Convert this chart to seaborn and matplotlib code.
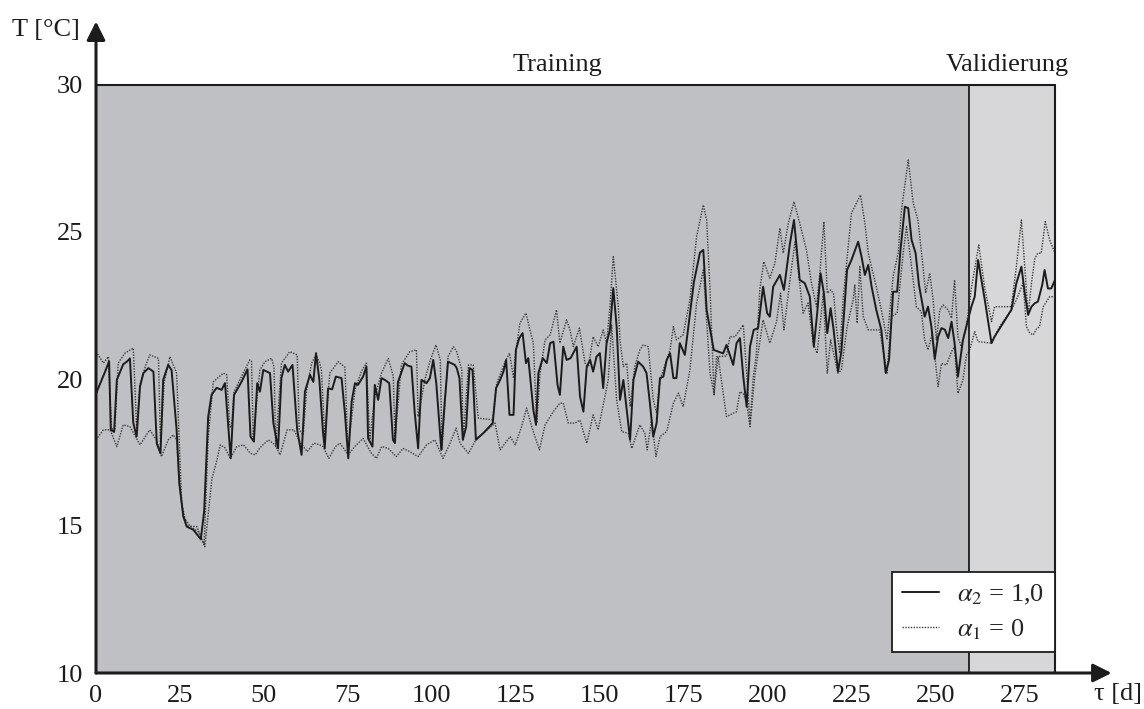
import numpy as np
import pandas as pd
import matplotlib
matplotlib.use("Agg")
import matplotlib.pyplot as plt
import seaborn as sns
from matplotlib.lines import Line2D

# ---------------- data ----------------
solid_x = [0, 2.7, 3.2, 3.9, 4.4, 5.4, 6.2, 8.1, 9.3, 10.1, 11.1, 12.1, 13.1, 14.1, 15.6, 17.1, 18.1, 19.2, 20.0,
           21.5, 22.5, 24.0, 24.8, 26, 27, 29, 31.2, 32.2, 33.4, 34.4, 35.9, 37.4, 38.4, 39.4, 40.1, 41.1, 43.3,
           45.1, 46, 47, 48, 48.8, 49.8, 51.8, 52.8, 54.2, 55.2, 56.2, 57.2, 58.5, 59.9, 61.2, 62.2, 63.7, 64.7,
           65.5, 66.5, 67.6, 68.1, 69.1, 70.3, 71.4, 73.1, 74.1, 75.1, 76.1, 77.1, 78.0, 79.5, 80.5, 81, 82.3, 83,
           84, 85, 86, 87.3, 88.4, 89, 89.9, 91.9, 92.9, 93.9, 94.9, 95.9, 96.9, 98.4, 99.4, 100.4, 101.3, 102.8,
           103.8, 104.8, 106.8, 107.4, 108.2, 109.2, 110.2, 111.2, 112.1, 113.1, 115.3, 118.1, 119.1, 120.3, 121.3,
           122.1, 123.1, 124.3, 125, 126, 127, 128, 128.7, 130.2, 131, 131.7, 133, 134.2, 135.2, 136.2, 137.4,
           138.1, 139.1, 140.1, 141.3, 143.1, 144.1, 145.1, 146.1, 147.1, 148.0, 149.0, 150.0, 151, 152, 153, 154,
           155, 156, 157, 158, 159, 160, 161.4, 162.9, 163.9, 164.9, 165.9, 166.9, 167.9, 168.9, 169.9, 170.9,
           171.9, 172.8, 173.8, 175.3, 176.8, 178, 179.8, 180.8, 181.8, 183.9, 186.7, 187.7, 189.7, 190.7, 191.7,
           192.7, 193.7, 194.7, 195.8, 197.1, 198.6, 199.8, 200.6, 201.6, 203.6, 204.8, 206.6, 207.8, 209.5, 211,
           212.5, 213.7, 214.7, 215.7, 216.7, 217.7, 218.7, 219.6, 220.9, 221.9, 223.6, 224.9, 226.9, 227.9, 228.9,
           229.9, 230.9, 232.3, 233.8, 235.1, 236.1, 237.3, 238.5, 239.5, 240.8, 241.8, 242.8, 244, 245, 246.7,
           247.7, 248.7, 249.7, 250.7, 251.7, 252.7, 253.7, 254.7, 255.6, 256.6, 258.1, 259.6, 260.6, 261.6, 262.6,
           264.6, 266.6, 267.5, 272.5, 274, 275.5, 276.5, 277.5, 278.5, 279.5, 280.4, 281.7, 282.4, 283.4, 284.4,
           285.5]
solid_y = [19.5, 20.25, 20.4, 20.6, 18.27, 18.2, 19.97, 20.5, 20.6, 20.7, 18.5, 18.04, 19.74, 20.2, 20.37, 20.25,
           17.8, 17.47, 19.97, 20.48, 20.3, 18.27, 16.45, 15.32, 14.98, 14.87, 14.55, 15.5, 18.72, 19.46, 19.7,
           19.63, 19.86, 18.38, 17.3, 19.46, 19.9, 20.33, 18.04, 17.87, 19.86, 19.57, 20.31, 20.2, 18.5, 17.64,
           20.03, 20.48, 20.25, 20.48, 18.27, 17.42, 19.57, 20.14, 19.9, 20.88, 19.97, 18.16, 17.64, 19.68, 19.65,
           20.08, 20.03, 18.84, 17.3, 19.23, 19.86, 19.8, 20.08, 20.42, 17.98, 17.7, 19.8, 19.29, 20.03, 19.97,
           19.86, 17.93, 17.82, 19.9, 20.54, 20.45, 20.42, 18.84, 17.64, 19.97, 19.86, 20.03, 20.65, 19.86, 17.59,
           19.2, 20.59, 20.48, 20.37, 20.03, 17.93, 18.38, 20.37, 20.31, 17.93, 18.16, 18.5, 19.69, 19.97, 20.25,
           20.65, 18.78, 18.78, 20.99, 21.39, 21.56, 20.54, 20.71, 18.95, 18.44, 20.2, 20.71, 20.54, 21.22, 21.27,
           19.8, 19.46, 21.1, 20.65, 20.71, 21.1, 19.4, 18.89, 20.42, 20.65, 20.25, 20.76, 20.88, 19.69, 21.22,
           21.67, 23.09, 21.78, 19.29, 19.97, 18.95, 17.93, 19.97, 20.59, 20.42, 20.2, 19.18, 18.04, 18.5, 20.03,
           20.08, 20.65, 20.88, 20.03, 20.03, 21.22, 20.82, 22.2, 23.3, 24.3, 24.39, 22.35, 20.99, 20.87, 21.16,
           20.48, 21.22, 21.39, 20.08, 19.06, 21.1, 21.67, 21.73, 23.14, 22.24, 22.12, 23.14, 23.54, 23.03, 24.62,
           25.41, 23.37, 23.26, 22.8, 21.1, 22.24, 23.6, 22.92, 21.56, 22.41, 21.67, 20.25, 20.93, 23.71, 24.05,
           24.67, 24.16, 23.54, 23.88, 23.14, 22.35, 21.67, 20.2, 20.65, 22.97, 22.97, 24.39, 25.86, 25.81, 24.73,
           24.28, 23.2, 22.12, 22.46, 21.78, 20.68, 21.44, 21.73, 21.68, 21.39, 21.95, 21.22, 20.08, 21.33, 22.01,
           22.46, 22.8, 24.05, 22.69, 21.22, 21.44, 22.35, 23.26, 23.82, 22.92, 22.18, 22.46, 22.58, 22.63, 23.2,
           23.71, 23.08, 23.08, 23.37]

upper_x = [0, 2.2, 3.7, 4.6, 5.6, 6.6, 8.6, 11.1, 12.1, 13.1, 14.6, 16, 18.6, 19.2, 20.3, 22, 24, 25.5, 27, 30,
           32.2, 33.4, 34.9, 37.9, 38.9, 39.8, 40.3, 41.1, 43.8, 45.8, 46.3, 46.8, 48.8, 50.3, 52.3, 53, 53.5, 55.2,
           57.7, 59.9, 60.5, 61.7, 62.7, 64.2, 65.5, 66.6, 67.1, 68.1, 69.6, 72.1, 74.1, 75.0, 77.1, 79, 80.5, 81.5,
           83, 85, 87, 88.5, 89, 90.9, 93.4, 95.4, 95.9, 97.9, 99.4, 101.2, 102.5, 103, 104.8, 106.4, 107.4, 108.9,
           109.3, 110.9, 112.3, 113.8, 118.1, 119.3, 121.8, 123.1, 124.3, 124.8, 126.2, 128, 129.2, 130.2, 131.2,
           132.2, 133.7, 135.2, 137.1, 138.1, 140.1, 141.1, 142.1, 143.9, 145.6, 146.6, 148, 149.5, 151, 152, 153,
           154, 155.5, 156, 157, 158, 159, 160.4, 161.9, 162.9, 164.4, 165.9, 166.9, 167.9, 170.9, 171.9, 172.8,
           174.8, 176.8, 178.8, 180.8, 181.8, 182.8, 184, 184.7, 187.7, 188.7, 190.2, 191.7, 192.7, 193.7, 194.7,
           195.7, 196.6, 197.6, 198.8, 200.6, 202.1, 203.6, 204.6, 206.1, 207.8, 209.5, 211.5, 213, 214.5, 215.5,
           216.7, 217.7, 218.7, 219.6, 220.4, 221.4, 222.4, 224.9, 227.6, 228.9, 229.9, 232.3, 233.8, 235.5, 237.3,
           238.8, 239.8, 241.8, 243.3, 244.7, 246.2, 247, 248.2, 249.2, 250.2, 251.2, 252.2, 253.7, 254.7, 255.6,
           256.6, 257.6, 259.1, 260.6, 262.8, 264.6, 266.6, 267.5, 272.5, 274, 275.5, 276.5, 277.5, 278.5, 279.5,
           280.4, 281.4, 282.6, 283.9, 285.5]
upper_y = [20.93, 20.54, 20.76, 18.3, 18.3, 20.54, 20.88, 21.05, 18.3, 19.8, 20.4, 20.82, 20.7, 17.7, 19.9, 20.76,
           20.2, 15.77, 15.0, 14.98, 14.36, 18.0, 19.9, 20.2, 20.15, 18.38, 18.35, 19.57, 20.2, 20.65, 20.6, 18.04,
           20.31, 20.59, 20.7, 20.4, 17.7, 20.54, 20.93, 20.82, 18.27, 18.1, 19.63, 20.54, 20.82, 20.55, 20.31,
           18.04, 20.2, 20.59, 20.4, 17.6, 19.63, 20.25, 20.54, 17.93, 19.4, 20.2, 20.7, 20.1, 17.93, 20.48, 20.93,
           20.99, 18.72, 19.97, 20.6, 21.16, 20.65, 17.6, 20.76, 21.1, 20.93, 20.3, 17.93, 20.48, 20.48, 18.67,
           18.61, 19.85, 20.59, 20.88, 20.03, 20.76, 21.9, 22.24, 21.67, 21.22, 18.5, 20.2, 21.33, 21.5, 22.35,
           21.22, 22.01, 21.67, 21.1, 21.73, 20.54, 20.42, 21.44, 21.1, 21.67, 21.22, 22.46, 24.16, 22.46, 21.3,
           20.42, 20.54, 19.06, 20.42, 20.99, 21.16, 21.1, 19.29, 18.84, 19.97, 20.99, 21.78, 21.33, 21.5, 22.69,
           24.84, 25.92, 25.4, 23.03, 19.46, 20.76, 20.78, 21.44, 21.44, 21.67, 21.84, 20.2, 18.49, 20.08, 20.87,
           23.03, 23.99, 23.43, 23.94, 25.13, 24.28, 25.3, 26.03, 25.3, 24.39, 23.26, 22.46, 23.6, 25.35, 22.92,
           23.03, 22.9, 21.78, 20.87, 22.69, 25.64, 26.26, 25.3, 24.28, 23.14, 22.35, 21.33, 23.48, 24.28, 25.75,
           27.45, 25.98, 25.41, 23.82, 22.92, 23.6, 22.7, 21.33, 22.35, 22.52, 22.35, 22.07, 23.37, 21.44, 21.1,
           21.78, 23.08, 24.56, 23.08, 21.95, 22.46, 22.46, 23.82, 25.41, 23.82, 22.2, 23.26, 24.1, 24.28, 24.28,
           25.35, 24.73, 24.28]

lower_x = [0, 2.2, 4.2, 6.2, 8.1, 10.1, 13.1, 16, 18, 19.5, 21.5, 23, 24, 24.8, 26, 28, 30.5, 32.4, 33.5, 34.5,
           35.9, 37, 38.4, 40, 41.9, 43.9, 46, 47.4, 48.8, 51.3, 53.3, 54.8, 56.9, 58.9, 60.9, 62.9, 64.9, 66.6,
           67.6, 69.3, 71.3, 72.6, 75.1, 77, 79.5, 82, 83.5, 85, 87, 89.4, 91.4, 93.4, 95.9, 98.4, 100.9, 103.3,
           105.4, 107.2, 108.4, 110.9, 113.3, 115.8, 118.8, 120.3, 123.3, 124.8, 126.7, 128.2, 129.7, 132, 133.7,
           136.2, 138.1, 139.1, 140.6, 142.6, 144.1, 146.1, 148, 149.5, 151, 152.5, 153.5, 155, 156.5, 158.5, 159.5,
           161.9, 163.4, 164.1, 165.4, 166.7, 167.9, 169.9, 171.9, 173.4, 174.8, 176.8, 178.8, 180.8, 182.8, 184,
           185.2, 187.7, 190.7, 191.7, 192.7, 193.7, 194.7, 196.1, 197.1, 198.6, 200.6, 202.6, 203.8, 204.8, 206.6,
           208.1, 209.5, 210.5, 212, 213.5, 214.7, 216.5, 217.7, 218.7, 219.6, 220.9, 221.9, 223.6, 225.4, 225.9,
           226.6, 227.4, 228.4, 229.9, 233.3, 235.5, 236.8, 238.5, 240.3, 241.3, 242.8, 244.2, 245.7, 246.7, 247.7,
           249, 250.7, 251.7, 253.2, 254.7, 255.6, 256.6, 258.1, 259.1, 260.1, 261.6, 262.6, 266.6, 269, 272.5,
           274, 276, 277, 278, 279, 280, 280.9, 282, 283.9, 285.5]
lower_y = [17.93, 18.27, 18.27, 17.7, 18.44, 18.38, 17.76, 18.27, 17.93, 17.36, 17.93, 18.1, 17.93, 16.45, 15.32,
           15.0, 14.8, 14.3, 15.5, 16.6, 17.2, 17.76, 17.66, 17.3, 17.7, 17.76, 17.47, 17.42, 17.66, 17.93, 17.76,
           17.42, 18.27, 18.27, 17.82, 17.53, 17.82, 17.76, 17.7, 17.3, 17.7, 17.82, 17.42, 17.7, 17.98, 17.47,
           17.3, 17.7, 17.64, 17.36, 17.64, 17.53, 17.36, 17.76, 17.93, 17.3, 17.81, 18.33, 17.81, 17.47, 17.98,
           18.2, 18.5, 17.59, 18.04, 17.76, 18.38, 19.01, 18.38, 17.59, 18.44, 18.9, 19.18, 19.18, 18.5, 18.5, 18.6,
           17.81, 18.78, 18.27, 19.12, 19.97, 21.84, 19.29, 18.21, 18.15, 17.64, 18.44, 18.15, 17.59, 18.61, 17.36,
           18.04, 18.21, 19.18, 19.52, 19.06, 20.3, 22.58, 23.71, 20.2, 19.5, 20.76, 18.72, 18.89, 19.57, 19.5,
           19.2, 18.38, 20.08, 20.87, 22.01, 21.22, 21.95, 22.92, 21.67, 23.37, 24.67, 23.26, 22.24, 22.58, 21.22,
           20.87, 22.9, 20.2, 21.33, 20.87, 20.2, 20.3, 21.78, 22.69, 23.2, 21.9, 23.82, 22.12, 21.67, 21.67, 20.2,
           22.12, 22.24, 24.28, 25.18, 23.82, 22.46, 22.29, 21.33, 20.99, 21.56, 19.74, 20.53, 20.48, 20.93, 21.1,
           19.51, 19.97, 20.8, 20.99, 21.61, 21.27, 21.22, 21.78, 22.35, 22.69, 23.26, 21.78, 21.56, 21.5, 21.7,
           21.78, 22.46, 22.8, 22.8]

x_ticks = [0, 25, 50, 75, 100, 125, 150, 175, 200, 225, 250, 275]
y_ticks = [10, 15, 20, 25, 30]
regions = ["Training", "Validierung"]
region_bounds = [0, 260, 285.5]
legend_labels = [r"$\alpha_2$ = 1,0", r"$\alpha_1$ = 0"]

# ---------------- style ----------------
sns.set_theme(style="white")
plt.rcParams["font.family"] = ["Liberation Serif", "DejaVu Serif"]
plt.rcParams["mathtext.fontset"] = "stix"
FS = 19
INK = "#1c1c1c"

fig = plt.figure(figsize=(11.44, 7.09), dpi=100)
ax = fig.add_axes([96 / 1144, 36 / 709, (1055 - 96) / 1144, (673 - 85) / 709])

# region shading
ax.axvspan(region_bounds[0], region_bounds[1], color="#bfc0c4", lw=0, zorder=0)
ax.axvspan(region_bounds[1], region_bounds[2], color="#d7d7d9", lw=0, zorder=0)

sns.lineplot(x=upper_x, y=upper_y, ax=ax, color="#3a3a3a", lw=1.0, linestyle=(0, (1, 1)),
             sort=False, estimator=None, zorder=2)
sns.lineplot(x=lower_x, y=lower_y, ax=ax, color="#3a3a3a", lw=1.0, linestyle=(0, (1, 1)),
             sort=False, estimator=None, zorder=2)
sns.lineplot(x=solid_x, y=solid_y, ax=ax, color=INK, lw=1.4, sort=False, estimator=None, zorder=3)

ax.set_xlim(0, 285.5)
ax.set_ylim(10, 30)

# frame of the shaded area
ax.plot([0, 285.5], [30, 30], color=INK, lw=1.5, clip_on=False, zorder=4)
ax.plot([285.5, 285.5], [10, 30], color=INK, lw=1.5, clip_on=False, zorder=4)
ax.plot([260, 260], [10, 30], color=INK, lw=1.3, zorder=4)

for s in ax.spines.values():
    s.set_visible(False)

# axis arrows
ax.annotate("", xy=(0, 1.108), xytext=(0, 0), xycoords="axes fraction",
            arrowprops=dict(arrowstyle="-|>", color=INK, lw=2.2, mutation_scale=28,
                            shrinkA=0, shrinkB=0), annotation_clip=False)
ax.annotate("", xy=(1.059, 0), xytext=(0, 0), xycoords="axes fraction",
            arrowprops=dict(arrowstyle="-|>", color=INK, lw=2.2, mutation_scale=28,
                            shrinkA=0, shrinkB=0), annotation_clip=False)

ax.set_xticks(x_ticks)
ax.set_yticks(y_ticks)
ax.set_xticklabels([str(t) for t in x_ticks])
ax.set_yticklabels([str(t) for t in y_ticks])
ax.tick_params(axis="both", direction="inout", length=11, width=1.5, color=INK,
               labelsize=FS, labelcolor=INK)
ax.tick_params(axis="x", pad=3)
ax.tick_params(axis="y", pad=4)
ax.set_xlabel("")
ax.set_ylabel("")

# axis labels
fig.text(80 / 1144, 1 - 30 / 709, "T [°C]", fontsize=FS, ha="right", va="center", color=INK)
fig.text(1142 / 1144, 1 - 694 / 709, "τ [d]", fontsize=FS, ha="right", va="center", color=INK)

# region titles
ax.text(137.5, 30.68, regions[0], fontsize=FS, ha="center", va="center", color=INK)
ax.text(271.2, 30.68, regions[1], fontsize=FS, ha="center", va="center", color=INK)

# legend
handles = [Line2D([], [], color=INK, lw=1.4),
           Line2D([], [], color="#3a3a3a", lw=1.0, linestyle=(0, (1, 1)))]
leg = ax.legend(handles, legend_labels, loc="lower right", bbox_to_anchor=(1.0, 0.035),
                fontsize=FS, frameon=True, fancybox=False, framealpha=1, edgecolor=INK,
                handlelength=1.4, handletextpad=0.7, borderpad=0.4, labelspacing=0.4,
                borderaxespad=0)
leg.get_frame().set_linewidth(1.3)
leg.set_zorder(5)

fig.savefig("out.png", dpi=100, facecolor="white")
